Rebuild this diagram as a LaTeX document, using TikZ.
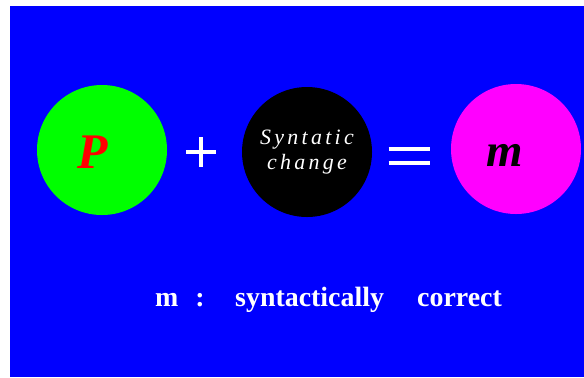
\documentclass[tikz,border=0pt]{standalone}
\usepackage{fontspec}
\setmainfont{Liberation Serif}
\usetikzlibrary{positioning, calc}

\definecolor{slideblue}{RGB}{0,0,255}
\definecolor{ballgreen}{RGB}{0,255,0}
\definecolor{ballpink}{RGB}{255,0,255}

\begin{document}
\begin{tikzpicture}[
		x=1bp, y=-1bp,
		% Style for the three balls
		ball/.style={circle, minimum size=130bp, inner sep=0pt},
		% Style for the operator signs
		opsign/.style={white, line width=3.5bp},
		% Style for the caption line
		caption/.style={white, font=\fontsize{28}{30}\selectfont\bfseries, inner sep=0pt}
		]
		
		% --- 1. Background ---
		\useasboundingbox (0,0) rectangle (584,377);
		\fill[white] (0,0) rectangle (584,377);
		\fill[slideblue] (10,6) rectangle (584,377);
		
		% --- 2. The three balls ---
		\node[ball, fill=ballgreen] (prog) at (102,150) {};
		\node[text=red, font=\fontsize{50}{52}\selectfont\bfseries\itshape, inner sep=0pt] (progP) at (93,152) {P};
		
		\node[ball, fill=black, align=center, text=white,
			font=\fontsize{22}{25}\selectfont\itshape\addfontfeature{LetterSpace=15}] (change) at (307,152)
			{Syntatic\\change};
		
		\node[ball, fill=ballpink] (mutant) at (516,149) {};
		\node[text=black, font=\fontsize{47}{50}\selectfont\bfseries\itshape, inner sep=0pt] (mutantM) at (505,155) {m};
		
		% --- 3. Plus and equals signs ---
		\coordinate (plus) at (201,152);
		\draw[opsign] ($(plus)+(-15,0)$) -- ($(plus)+(15,0)$);
		\draw[opsign] ($(plus)+(0,-15)$) -- ($(plus)+(0,15)$);
		
		\coordinate (equals) at (409,156);
		\draw[opsign] ($(equals)+(-20.5,-7)$) -- ($(equals)+(20.5,-7)$);
		\draw[opsign] ($(equals)+(-20.5,7)$) -- ($(equals)+(20.5,7)$);
		
		% --- 4. Caption ---
		\node[caption, anchor=base west] (capM) at (155,306) {m};
		\node[caption, anchor=base] (capColon) at (200,306) {:};
		\node[caption, anchor=base west] (capSyn) at (235,306) {syntactically};
		\node[caption, anchor=base west] (capCorrect) at (417,306) {correct};
		
	\end{tikzpicture}
\end{document}
